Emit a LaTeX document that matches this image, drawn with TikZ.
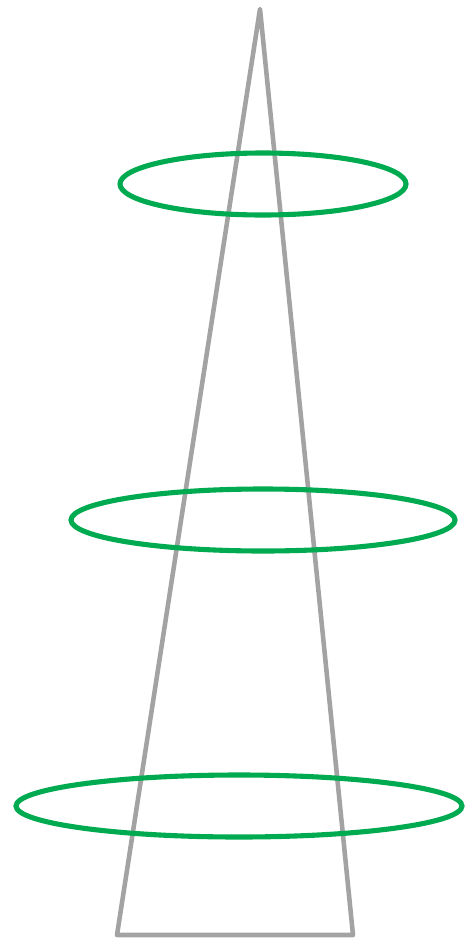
\documentclass[tikz,border=0pt]{standalone}
\usepackage{xcolor}
\usepackage{tikz}
\definecolor{cone}{RGB}{163,163,163}
\definecolor{ring}{RGB}{0,170,80}

\begin{document}
\begin{tikzpicture}[x=0.02cm,y=-0.02cm,
    conestyle/.style={draw=cone,line width=2.6pt,line join=round},
    ringstyle/.style={draw=ring,line width=2.9pt}]
      \useasboundingbox (0,0) rectangle (467,940);
      \draw[conestyle](260,9)--(353,935)--(117,935)--cycle;
      \draw[ringstyle](263,184) ellipse [x radius=143,y radius=31];
      \draw[ringstyle](263,520) ellipse [x radius=192,y radius=31];
      \draw[ringstyle](239,806) ellipse [x radius=223,y radius=31];
    \end{tikzpicture}
\end{document}
